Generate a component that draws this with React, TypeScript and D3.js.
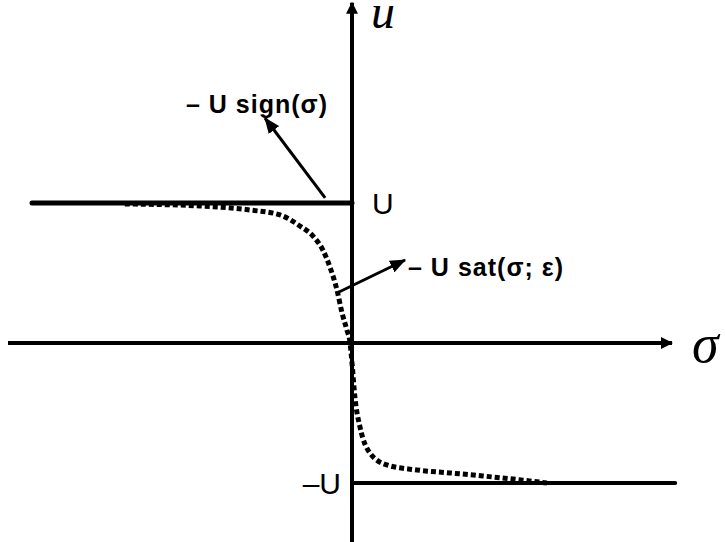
import React from "react";
import * as d3 from "d3";

// Smooth saturation curve  -U sat(σ; ε), sampled points (σ, u/U)
const satSigma = [-7.1, -4.75, -3.19, -2.25, -1.63, -1.22, -0.91, -0.69, -0.47, -0.31, -0.16, -0.06, 0.0, 0.09, 0.25, 0.56, 1.09, 2.03, 3.06, 4.09, 5.16, 6.09];
const satU = [0.993, 0.979, 0.95, 0.915, 0.836, 0.764, 0.664, 0.543, 0.379, 0.214, 0.093, 0.0, -0.143, -0.386, -0.6, -0.786, -0.871, -0.907, -0.928, -0.95, -0.975, -1.0];

// Discontinuous law  -U sign(σ)
const signLeftSigma = [-10, 0];
const signRightSigma = [0, 10.1];
const signLevels = [1, -1];

// Axis extents (σ and u units)
const sigmaAxis = [-10.75, 10.0];
const uAxis = [-1.43, 2.43];

// Annotation arrows: [fromσ, fromU, toσ, toU]
const signArrow = [-0.84, 1.036, -2.72, 1.607];
const satArrow = [-0.47, 0.357, 1.66, 0.593];

const labels = {
  sign: "– U sign(σ)",
  sat: "– U sat(σ; ε)",
  upper: "U",
  lower: "–U",
  yName: "u",
  xName: "σ",
};

export default function App() {
  const W = 725;
  const H = 542;
  const x = d3.scaleLinear().domain([-11, 11]).range([0, 704]);
  const y = d3.scaleLinear().domain([-1, 1]).range([483, 203]);

  const satLine = d3
    .line<number>()
    .x((_, i) => x(satSigma[i]))
    .y((d) => y(d))
    .curve(d3.curveMonotoneX);

  const x0 = x(0);
  const y0 = y(0);

  return (
    <svg
      width={W}
      height={H}
      style={{ position: "absolute", left: 0, top: 0, background: "#fff" }}
      fontFamily="'Liberation Sans', Arial, sans-serif"
    >
      <defs>
        <marker id="axisHead" viewBox="0 0 12 12" refX="11" refY="6" markerWidth="12" markerHeight="12" markerUnits="userSpaceOnUse" orient="auto">
          <path d="M0,0 L12,6 L0,12 Z" fill="#000" />
        </marker>
        <marker id="noteHead" viewBox="0 0 16 13" refX="15" refY="6.5" markerWidth="16" markerHeight="13" markerUnits="userSpaceOnUse" orient="auto">
          <path d="M0,0 L16,6.5 L0,13 Z" fill="#000" />
        </marker>
      </defs>

      {/* axes */}
      <line x1={x(sigmaAxis[0])} y1={y0} x2={x(sigmaAxis[1])} y2={y0} stroke="#000" strokeWidth={4} markerEnd="url(#axisHead)" />
      <line x1={x0} y1={y(uAxis[0])} x2={x0} y2={y(uAxis[1])} stroke="#000" strokeWidth={4} markerEnd="url(#axisHead)" />

      {/* sign law */}
      <line x1={x(signLeftSigma[0])} y1={y(signLevels[0])} x2={x(signLeftSigma[1])} y2={y(signLevels[0])} stroke="#000" strokeWidth={5} strokeLinecap="round" />
      <line x1={x(signRightSigma[0])} y1={y(signLevels[1])} x2={x(signRightSigma[1])} y2={y(signLevels[1])} stroke="#000" strokeWidth={4} strokeLinecap="round" />

      {/* saturation law */}
      <path d={satLine(satU) || ""} fill="none" stroke="#000" strokeWidth={5} strokeDasharray="5 3" />

      {/* annotation arrows */}
      <line x1={x(signArrow[0])} y1={y(signArrow[1])} x2={x(signArrow[2])} y2={y(signArrow[3])} stroke="#000" strokeWidth={3} markerEnd="url(#noteHead)" />
      <line x1={x(satArrow[0])} y1={y(satArrow[1])} x2={x(satArrow[2])} y2={y(satArrow[3])} stroke="#000" strokeWidth={3} markerEnd="url(#noteHead)" />

      {/* labels */}
      <text x={186} y={113} fontSize={25} fontWeight="bold" textLength={141} lengthAdjust="spacing">{labels.sign}</text>
      <text x={408} y={276} fontSize={25} fontWeight="bold" textLength={155} lengthAdjust="spacing">{labels.sat}</text>
      <text x={372} y={y(1) + 11} fontSize={30}>{labels.upper}</text>
      <text x={341} y={y(-1) + 11} fontSize={30} textAnchor="end">{labels.lower}</text>
      <text x={371} y={28} fontSize={48} fontStyle="italic" fontFamily="'Liberation Serif', 'Times New Roman', serif">{labels.yName}</text>
      <text x={692} y={362} fontSize={54} fontStyle="italic" fontFamily="'Liberation Serif', 'Times New Roman', serif">{labels.xName}</text>
    </svg>
  );
}
